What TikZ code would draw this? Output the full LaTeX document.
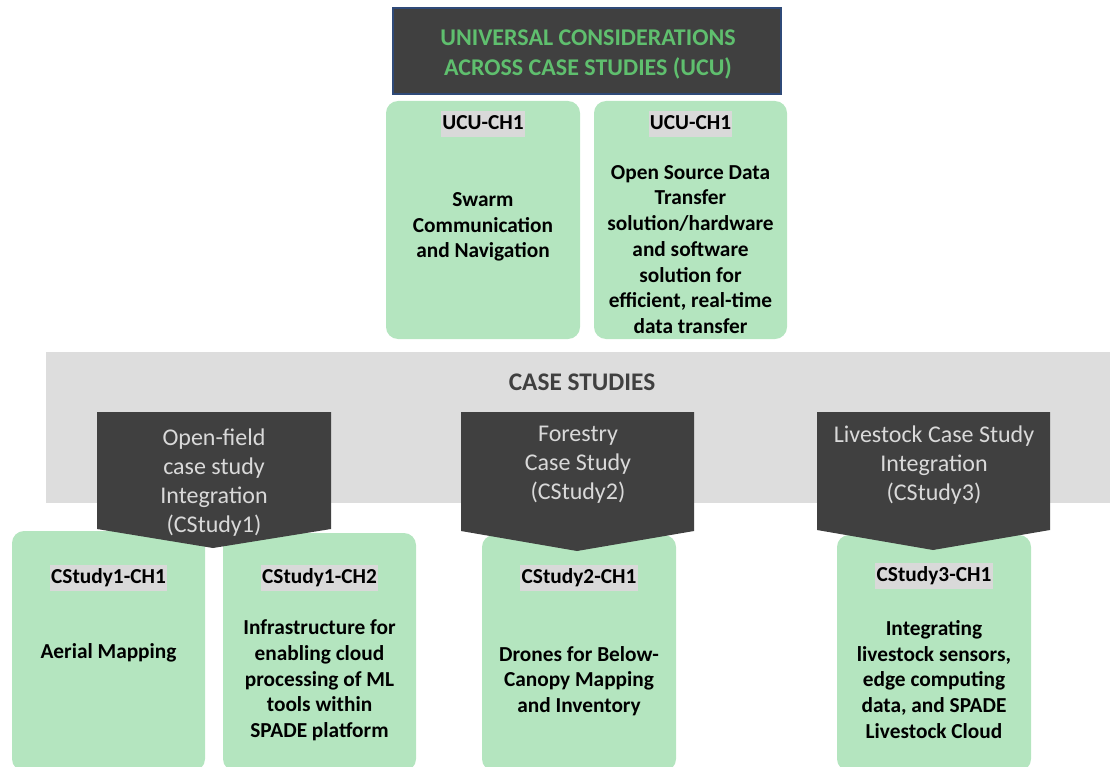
\documentclass[tikz,border=0pt]{standalone}
\usepackage{fontspec}
\setmainfont{Carlito}
\definecolor{darkbg}{HTML}{404040}
\definecolor{boxgreen}{HTML}{B4E5BF}
\definecolor{titlegreen}{HTML}{5FBF6E}
\definecolor{bandgray}{HTML}{DDDDDD}
\definecolor{labelgray}{HTML}{D9D9D9}
\definecolor{penttextcol}{HTML}{D9D9D9}
\definecolor{headborder}{HTML}{2F4A78}
\begin{document}
\begin{tikzpicture}[x=0.75pt,y=-0.75pt,
  greenbox/.style={fill=boxgreen, rounded corners=9pt},
  chlabel/.style={fill=labelgray, font=\fontsize{16}{19.3}\selectfont\bfseries, inner xsep=1pt, inner ysep=0pt, text height=14pt, text depth=5.5pt},
  body/.style={font=\fontsize{16}{19.3}\selectfont\bfseries, align=center, text=black, inner sep=0pt},
  pentshape/.style={fill=darkbg},
  penttext/.style={font=\fontsize{18}{21.8}\selectfont, align=center, text=penttextcol, inner sep=0pt},
  titletext/.style={font=\fontsize{18}{22.5}\selectfont\bfseries, align=center, text=titlegreen, inner sep=0pt},
  bandtext/.style={font=\fontsize{19}{23}\selectfont\bfseries, text=darkbg, inner sep=0pt}
]
\useasboundingbox (0,0) rectangle (1110,767);

% header
\path[fill=darkbg, draw=headborder, line width=0.8pt] (393,8) rectangle (781,94);
\node[titletext] (ucu) at (588,54) {UNIVERSAL CONSIDERATIONS\\ACROSS CASE STUDIES (UCU)};

% top boxes
\path[greenbox] (386,101) rectangle (580,339);
\path[greenbox] (594,101) rectangle (787,339);
\node[chlabel] (ucuch1a) at (483,124) {UCU-CH1};
\node[chlabel] (ucuch1b) at (690.5,124) {UCU-CH1};
\node[body] (swarm) at (483,227) {Swarm\\Communication\\and Navigation};
\node[body] (opensrc) at (690.5,249.5) {Open Source Data\\Transfer\\solution/hardware\\and software\\solution for\\efficient, real-time\\data transfer};

% case studies band
\path[fill=bandgray] (46,352) rectangle (1110,503);
\node[bandtext] (cs) at (582,382) {CASE STUDIES};

% bottom boxes
\path[greenbox] (12,531) rectangle (205,771);
\path[greenbox] (223,533) rectangle (416,771);
\path[greenbox] (482,535) rectangle (676,771);
\path[greenbox] (837,535) rectangle (1031,771);

% pentagons
\path[pentshape] (97,412) -- (331,412) -- (331,529) -- (213,548) -- (97,529) -- cycle;
\path[pentshape] (461,412) -- (694,412) -- (694,531) -- (577,551) -- (461,531) -- cycle;
\path[pentshape] (817,412) -- (1050,412) -- (1050,530) -- (933,550) -- (817,530) -- cycle;
\node[penttext] (cs1) at (214,482.5) {Open-field\\case study\\Integration\\(CStudy1)};
\node[penttext] (cs2) at (578,465) {Forestry\\Case Study\\(CStudy2)};
\node[penttext] (cs3) at (934,465) {Livestock Case Study\\Integration\\(CStudy3)};

% bottom labels and texts
\node[chlabel] (c1h1) at (108.5,578) {CStudy1-CH1};
\node[chlabel] (c1h2) at (319.5,578) {CStudy1-CH2};
\node[chlabel] (c2h1) at (579,578) {CStudy2-CH1};
\node[chlabel] (c3h1) at (934,576) {CStudy3-CH1};
\node[body] (aerial) at (108.5,653) {Aerial Mapping};
\node[body] (infra) at (319.5,680.5) {Infrastructure for\\enabling cloud\\processing of ML\\tools within\\SPADE platform};
\node[body] (drones) at (579,681) {Drones for Below-\\Canopy Mapping\\and Inventory};
\node[body] (livest) at (934,679.5) {Integrating\\livestock sensors,\\edge computing\\data, and SPADE\\Livestock Cloud};
\end{tikzpicture}
\end{document}
